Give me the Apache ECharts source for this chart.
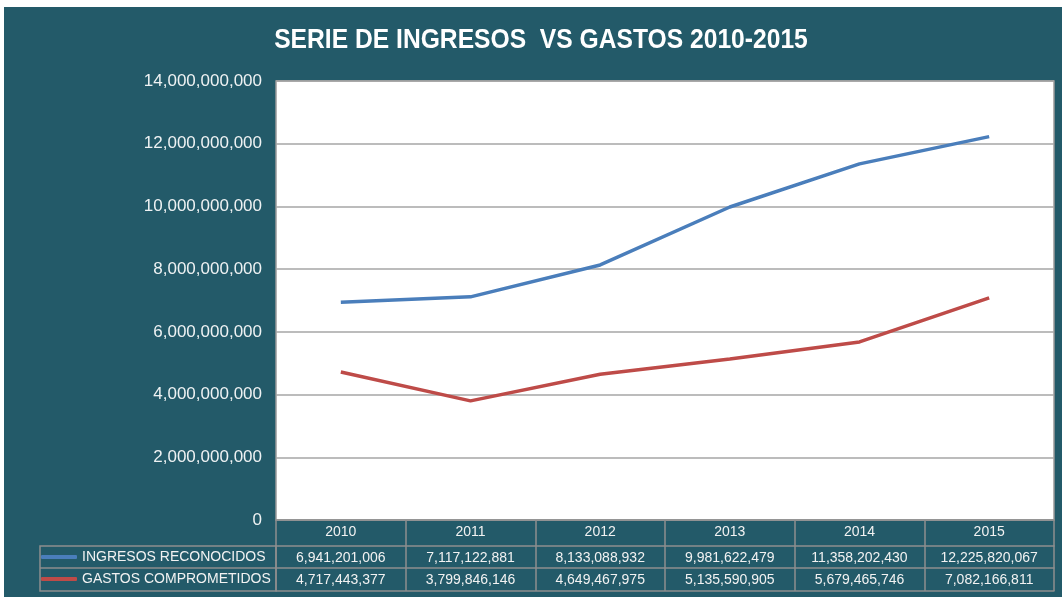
<!DOCTYPE html>
<html>
<head>
<meta charset="utf-8">
<script src="https://cdn.jsdelivr.net/npm/echarts@6/dist/echarts.min.js"></script>
<style>
  html, body { margin: 0; padding: 0; background: #fff; }
  #main { position: absolute; left: 4px; top: 7px; width: 1058px; height: 590px; background: #235a69; }
</style>
</head>
<body>
<div id="main"></div>
<script>
// datos de la serie
var years = ["2010", "2011", "2012", "2013", "2014", "2015"];
var ingresos = [6941201006, 7117122881, 8133088932, 9981622479, 11358202430, 12225820067];
var gastos = [4717443377, 3799846146, 4649467975, 5135590905, 5679465746, 7082166811];
var nameIng = "INGRESOS RECONOCIDOS";
var nameGas = "GASTOS COMPROMETIDOS";
var titulo = "SERIE DE INGRESOS  VS GASTOS 2010-2015";

function fmt(n) {
  return String(n).replace(/\B(?=(\d{3})+(?!\d))/g, ",");
}

var lineGray = "#8e8e8e";
var font = "'Liberation Sans', Arial, sans-serif";

// filas de la tabla bajo el grafico
function tableAxis(offset, tickLen, labels) {
  return {
    type: "category",
    position: "bottom",
    offset: offset,
    data: years,
    boundaryGap: true,
    axisLine: { show: true, lineStyle: { color: lineGray, width: 1.5 } },
    axisTick: { show: tickLen > 0, interval: 0, length: tickLen, lineStyle: { color: lineGray, width: 1.5 } },
    axisLabel: {
      show: !!labels,
      interval: 0,
      margin: 5,
      color: "#f2f2f2",
      fontSize: 14,
      fontFamily: font,
      formatter: function (v, i) { return labels ? labels[i] : ""; }
    }
  };
}

var myChart = echarts.init(document.getElementById("main"));
myChart.setOption({
  animation: false,
  grid: {
    left: 272,
    right: 8,
    top: 74,
    bottom: 77,
    show: true,
    backgroundColor: "#fff",
    borderColor: "#9a9a9a",
    borderWidth: 1.5
  },
  legend: {
    orient: "vertical",
    left: 37,
    top: 539,
    padding: 0,
    itemGap: 0,
    itemWidth: 36,
    itemHeight: 4,
    icon: "roundRect",
    data: [nameIng, nameGas],
    textStyle: { color: "#f2f2f2", fontSize: 14, fontFamily: font, lineHeight: 22 }
  },
  xAxis: [
    tableAxis(0, 26, years),
    tableAxis(26, 22, ingresos.map(fmt)),
    tableAxis(48, 23, gastos.map(fmt)),
    tableAxis(71, 0, null)
  ],
  yAxis: {
    type: "value",
    min: 0,
    max: 14000000000,
    interval: 2000000000,
    axisLine: { show: false },
    axisTick: { show: false },
    splitLine: { lineStyle: { color: "#a6a6a6", width: 1.5 } },
    axisLabel: {
      margin: 14,
      color: "#eef2f3",
      fontSize: 17,
      fontFamily: font,
      formatter: function (v) { return fmt(v); }
    }
  },
  graphic: [
    // titulo estrecho (tipo Arial Narrow)
    {
      type: "text",
      x: 537,
      y: 33,
      scaleX: 0.88,
      style: {
        text: titulo,
        fill: "#fff",
        font: "bold 28px 'Liberation Sans', Arial, sans-serif",
        textAlign: "center",
        textVerticalAlign: "middle"
      }
    },
    { type: "rect", shape: { x: 36, y: 539, width: 236, height: 45 }, style: { fill: null, stroke: lineGray, lineWidth: 1.5 } },
    { type: "line", shape: { x1: 36, y1: 561, x2: 272, y2: 561 }, style: { stroke: lineGray, lineWidth: 1.5 } }
  ],
  series: [
    {
      name: nameIng,
      type: "line",
      data: ingresos,
      symbol: "none",
      itemStyle: { color: "#4a7ebb" },
      lineStyle: { color: "#4a7ebb", width: 3.5 }
    },
    {
      name: nameGas,
      type: "line",
      data: gastos,
      symbol: "none",
      itemStyle: { color: "#be4b48" },
      lineStyle: { color: "#be4b48", width: 3.5 }
    }
  ]
});
</script>
</body>
</html>
